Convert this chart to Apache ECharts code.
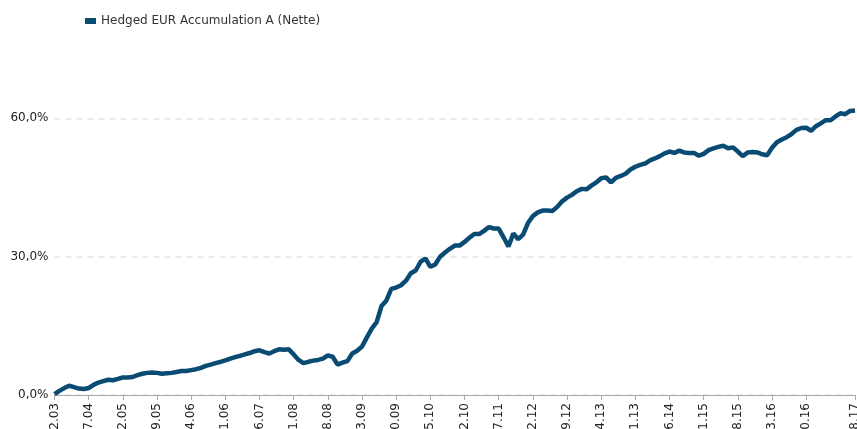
<!DOCTYPE html>
<html><head><meta charset="utf-8">
<script src="https://cdn.jsdelivr.net/npm/echarts@6/dist/echarts.min.js"></script>
<style>html,body{margin:0;padding:0;background:#fff}#c{width:857px;height:429px}</style>
</head><body><div id="c"></div>
<script>
// Monthly series from Dec 2003 to Aug 2017 (cumulative net performance, %)
const startYear = 2003, startMonth = 12, monthCount = 165;
const seriesName = 'Hedged EUR Accumulation A (Nette)';
const values = [
 0.2,0.9,1.5,2.0,1.7,1.4,1.3,1.5,2.2,2.7,
 3.0,3.3,3.2,3.5,3.8,3.8,3.9,4.3,4.6,4.8,
 4.9,4.8,4.6,4.7,4.8,5.0,5.2,5.2,5.4,5.6,
 5.9,6.3,6.6,6.9,7.2,7.5,7.9,8.2,8.5,8.8,
 9.1,9.5,9.7,9.3,9.0,9.5,9.9,9.8,9.9,8.8,
 7.6,6.9,7.2,7.45,7.6,7.9,8.6,8.3,6.6,7.0,
 7.35,9.0,9.6,10.5,12.5,14.4,15.8,19.3,20.5,23.0,
 23.3,23.8,24.8,26.4,27.0,28.9,29.6,27.8,28.3,30.0,
 30.9,31.7,32.4,32.4,33.2,34.1,34.9,34.9,35.6,36.4,
 36.1,36.1,34.2,32.2,35.0,33.8,34.8,37.3,38.8,39.6,
 40.0,40.0,39.9,40.8,42.0,42.8,43.4,44.2,44.7,44.6,
 45.4,46.1,47.0,47.2,46.1,47.1,47.5,48.0,48.9,49.5,
 49.9,50.2,50.9,51.3,51.8,52.4,52.8,52.5,53.0,52.6,
 52.5,52.5,51.9,52.3,53.1,53.5,53.8,54.05,53.5,53.7,
 52.8,51.8,52.6,52.7,52.6,52.2,52.0,53.6,54.8,55.4,
 55.9,56.6,57.5,57.9,57.95,57.3,58.3,58.9,59.6,59.6,
 60.4,61.1,60.9,61.6,61.7
];
const yTicks = [0, 30, 60];

// category labels: month-end dates dd.mm.yy
const categories = [];
for (let k = 0; k < monthCount; k++) {
  const m0 = startMonth - 1 + k;
  const y = startYear + Math.floor(m0 / 12);
  const m = m0 % 12 + 1;
  const d = new Date(Date.UTC(y, m, 0)).getUTCDate();
  categories.push(String(d).padStart(2,'0') + '.' + String(m).padStart(2,'0') + '.' + String(y % 100).padStart(2,'0'));
}
const lastIdx = monthCount - 1;
const showLabel = (i) => (i % 7 === 0 && i <= 154) || i === lastIdx;

const chart = echarts.init(document.getElementById('c'), null, {renderer: 'canvas'});
chart.setOption({
  animation: false,
  textStyle: {fontFamily: 'DejaVu Sans'},
  legend: {
    left: 80, top: 10, itemWidth: 11, itemHeight: 6, itemGap: 10,
    icon: 'rect',
    textStyle: {fontSize: 12, color: '#333', fontFamily: 'DejaVu Sans'},
    data: [seriesName]
  },
  grid: {left: 54.5, right: 2, top: -20, bottom: 34, containLabel: false, outerBoundsMode: 'none'},
  xAxis: {
    type: 'category', data: categories, boundaryGap: false,
    axisLine: {lineStyle: {color: '#aaaaaa', width: 1}},
    axisTick: {show: true, length: 5, interval: (i) => showLabel(i), lineStyle: {color: '#aaaaaa'}},
    axisLabel: {rotate: 90, interval: (i) => showLabel(i), margin: 8, fontSize: 12, color: '#222', fontFamily: 'DejaVu Sans'},
    splitLine: {show: false}
  },
  yAxis: {
    type: 'value', min: 0, max: 90, interval: 30,
    axisLine: {show: false}, axisTick: {show: false},
    axisLabel: {fontSize: 12, color: '#222', margin: 6, fontFamily: 'DejaVu Sans',
      formatter: (v) => yTicks.includes(v) ? v.toFixed(1).replace('.', ',') + '%' : ''},
    splitLine: {show: true, lineStyle: {color: '#e6e6e6', type: [6, 5], width: 1.5}}
  },
  series: [{
    name: seriesName, type: 'line', data: values, symbol: 'none',
    lineStyle: {color: '#0a4b73', width: 4.5}, itemStyle: {color: '#0a4b73'}
  }]
});
</script></body></html>
